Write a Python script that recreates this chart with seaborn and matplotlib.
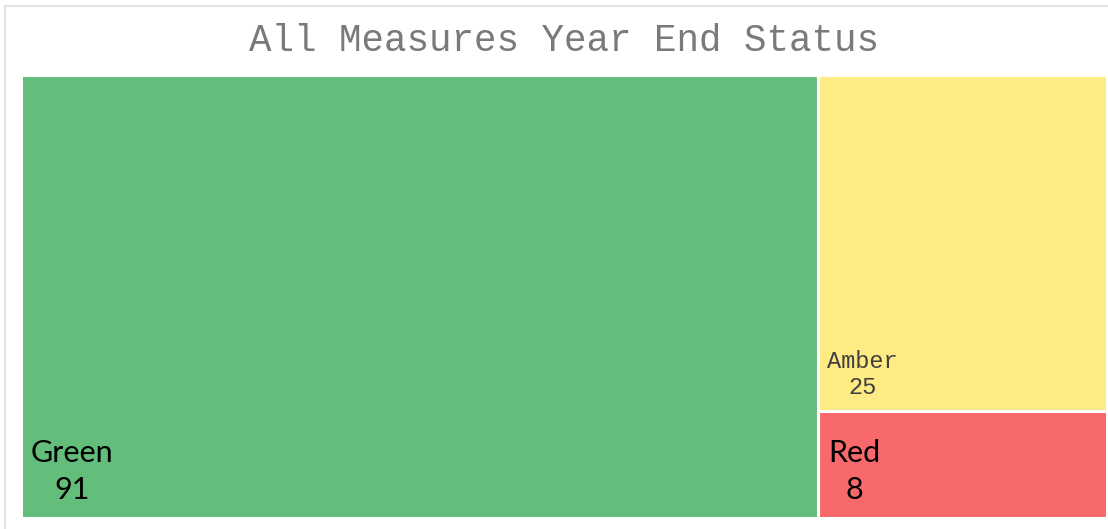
import matplotlib
matplotlib.use("Agg")
import matplotlib.pyplot as plt
from matplotlib.patches import Rectangle
import seaborn as sns

# ---- data ----
categories = ["Green", "Amber", "Red"]
values = [91, 25, 8]
colors = ["#63BE7B", "#FFEB84", "#F8696B"]
title = "All Measures Year End Status"

sns.set_theme(style="white")
plt.rcParams['font.family'] = ['Liberation Mono', 'DejaVu Sans']

fig = plt.figure(figsize=(11.08, 5.29), dpi=100)
fig.patch.set_facecolor("white")
ax = fig.add_axes([21/1108, 1-518/529, 1086/1108, 443/529])

# layout: largest item takes a full-height column, rest stacked in the remaining column
total = sum(values)
rects = []
w0 = values[0] / total
rects.append((0.0, 0.0, w0, 1.0))
rest = sum(values[1:])
top = 1.0
for v in values[1:]:
    h = v / rest
    rects.append((w0, top - h, 1.0 - w0, h))
    top -= h

for (x, y, w, h), c in zip(rects, colors):
    ax.bar(x, h, width=w, bottom=y, align="edge", color=c,
           edgecolor="white", linewidth=2.2)

ax.set_xlim(0, 1)
ax.set_ylim(0, 1)
ax.set_axis_off()

label_styles = {
    "Green": dict(family=["Lato", "DejaVu Sans"], size=22, color="black", dx=10, dy=14, ls=1.4),
    "Red": dict(family=["Lato", "DejaVu Sans"], size=22, color="black", dx=10, dy=14, ls=1.4),
    "Amber": dict(family=["Liberation Mono", "DejaVu Sans"], size=17, color="#404040", dx=9, dy=12, ls=1.15),
}
for cat, v, (x, y, w, h) in zip(categories, values, rects):
    st = label_styles[cat]
    ax.annotate(f"{cat}\n{v}", xy=(x, y), xycoords="data",
                xytext=(st["dx"], st["dy"]), textcoords="offset pixels",
                ha="left", va="bottom", multialignment="center",
                family=st["family"], fontsize=st["size"], color=st["color"],
                linespacing=st["ls"])

fig.text(564/1108, 1-41/529, title, ha="center", va="center",
         family=["Liberation Mono", "DejaVu Sans"], fontsize=27, color="#7a7a7a")

# light frame around the chart area
fig.add_artist(Rectangle((5/1108, -0.01), 1.02, 1 - 6/529 + 0.01,
                         transform=fig.transFigure, fill=False,
                         edgecolor="#dddddd", linewidth=1.2))

fig.savefig("out.png", dpi=100, facecolor="white")
